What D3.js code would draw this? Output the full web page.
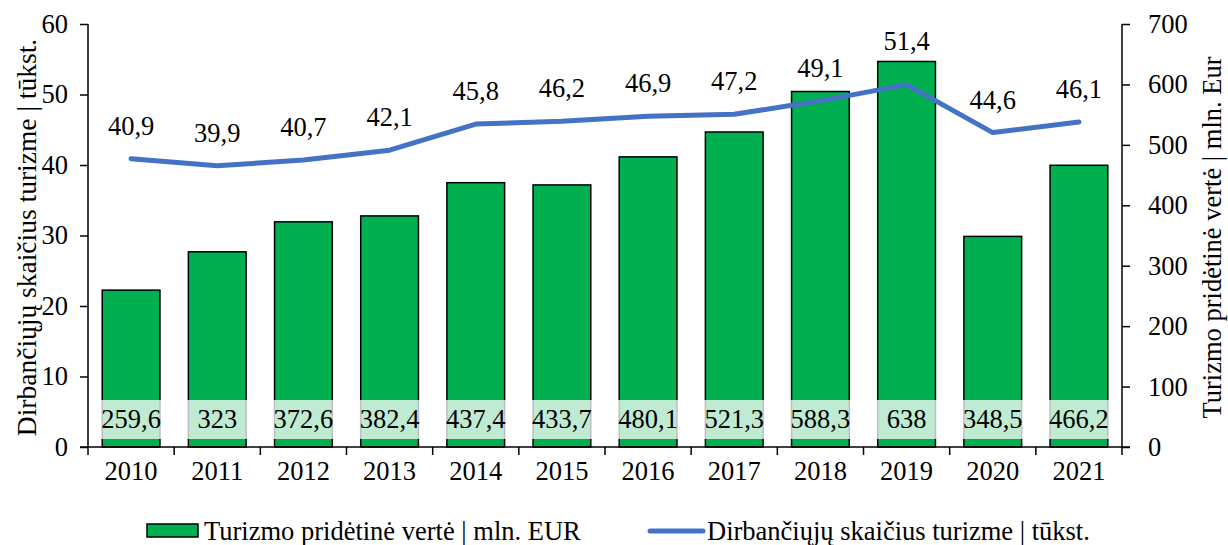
<!DOCTYPE html>
<html>
<head>
<meta charset="utf-8">
<script src="https://cdn.jsdelivr.net/npm/d3@7"></script>
<style>
  body { margin: 0; background: #fff; }
  text { font-family: "Liberation Serif", "Times New Roman", serif; fill: #000; }
</style>
</head>
<body>
<div id="chart"></div>
<script>
// duomenys
const years = ["2010", "2011", "2012", "2013", "2014", "2015", "2016", "2017", "2018", "2019", "2020", "2021"];
const valueAdded = [259.6, 323, 372.6, 382.4, 437.4, 433.7, 480.1, 521.3, 588.3, 638, 348.5, 466.2];
const employed = [40.9, 39.9, 40.7, 42.1, 45.8, 46.2, 46.9, 47.2, 49.1, 51.4, 44.6, 46.1];
const leftTicks = [0, 10, 20, 30, 40, 50, 60];
const rightTicks = [0, 100, 200, 300, 400, 500, 600, 700];

const width = 1228;
const height = 545;
const pLeft = 88, pRight = 1122, pTop = 24, pBottom = 447;
const fs = 26.5;
const fmt = d => String(d).replace(".", ",");

const svg = d3.select("#chart")
  .append("svg")
  .attr("width", width)
  .attr("height", height);

const x = d3.scaleBand().domain(years).range([pLeft, pRight]).paddingInner(0.33).paddingOuter(0.165);
const yL = d3.scaleLinear().domain([0, 60]).range([pBottom, pTop]);
const yR = d3.scaleLinear().domain([0, 700]).range([pBottom, pTop]);

// stulpeliai
svg.selectAll("rect.bar")
  .data(years)
  .enter()
  .append("rect")
  .attr("class", "bar")
  .attr("x", d => x(d))
  .attr("y", (d, i) => yR(valueAdded[i]))
  .attr("width", x.bandwidth())
  .attr("height", (d, i) => pBottom - yR(valueAdded[i]))
  .attr("fill", "#00B050")
  .attr("stroke", "#000")
  .attr("stroke-width", 1.5);

// reikšmių etiketės stulpelių apačioje
svg.selectAll("rect.lblbg")
  .data(years)
  .enter()
  .append("rect")
  .attr("class", "lblbg")
  .attr("x", d => x(d) - 1.5)
  .attr("y", pBottom - 47)
  .attr("width", x.bandwidth() + 3)
  .attr("height", 39)
  .attr("fill", "rgba(255,255,255,0.75)");

svg.selectAll("text.barlbl")
  .data(years)
  .enter()
  .append("text")
  .attr("class", "barlbl")
  .attr("x", d => x(d) + x.bandwidth() / 2)
  .attr("y", pBottom - 19)
  .attr("text-anchor", "middle")
  .attr("font-size", fs)
  .text((d, i) => fmt(valueAdded[i]));

// linija
const cx = d => x(d) + x.bandwidth() / 2;
const line = d3.line()
  .x((d, i) => cx(years[i]))
  .y(d => yL(d));

svg.append("path")
  .datum(employed)
  .attr("d", line)
  .attr("fill", "none")
  .attr("stroke", "#4472C4")
  .attr("stroke-width", 5)
  .attr("stroke-linecap", "round")
  .attr("stroke-linejoin", "round");

svg.selectAll("text.linelbl")
  .data(years)
  .enter()
  .append("text")
  .attr("class", "linelbl")
  .attr("x", d => cx(d))
  .attr("y", (d, i) => Math.min(yL(employed[i]) - 24, yR(valueAdded[i]) - 11))
  .attr("text-anchor", "middle")
  .attr("font-size", fs)
  .text((d, i) => fmt(employed[i]));

// ašys
const axL = svg.append("g")
  .attr("transform", `translate(${pLeft},0)`)
  .call(d3.axisLeft(yL).tickValues(leftTicks).tickSize(8).tickSizeOuter(8).tickPadding(12));
const axR = svg.append("g")
  .attr("transform", `translate(${pRight},0)`)
  .call(d3.axisRight(yR).tickValues(rightTicks).tickSize(8).tickSizeOuter(8).tickPadding(18));
const axB = svg.append("g")
  .attr("transform", `translate(0,${pBottom})`)
  .call(d3.axisBottom(x).tickSize(0).tickPadding(14));

// x ašies padalos tarp kategorijų
svg.selectAll("line.xtick")
  .data(d3.range(years.length + 1))
  .enter()
  .append("line")
  .attr("class", "xtick")
  .attr("x1", i => pLeft + i * (pRight - pLeft) / years.length)
  .attr("x2", i => pLeft + i * (pRight - pLeft) / years.length)
  .attr("y1", pBottom)
  .attr("y2", pBottom + 8)
  .attr("stroke", "#000")
  .attr("stroke-width", 1.5);

svg.append("line")
  .attr("x1", pLeft - 8).attr("x2", pRight + 8)
  .attr("y1", pBottom).attr("y2", pBottom)
  .attr("stroke", "#000").attr("stroke-width", 1.5);

[axL, axR, axB].forEach(g => {
  g.selectAll("text").attr("font-size", fs).attr("font-family", "Liberation Serif");
  g.selectAll("line, path").attr("stroke", "#000").attr("stroke-width", 1.5);
});
axB.select(".domain").remove();
axL.select(".domain").attr("d", `M0,${pTop}V${pBottom}`);
axR.select(".domain").attr("d", `M0,${pTop}V${pBottom}`);

// ašių pavadinimai
svg.append("text")
  .attr("transform", `translate(36,${(pTop + pBottom) / 2 + 2}) rotate(-90)`)
  .attr("text-anchor", "middle")
  .attr("font-size", 27.5)
  .text("Dirbančiųjų skaičius turizme | tūkst.");

svg.append("text")
  .attr("transform", `translate(1221,${(pTop + pBottom) / 2 + 2}) rotate(-90)`)
  .attr("text-anchor", "middle")
  .attr("font-size", 26.5)
  .text("Turizmo pridėtinė vertė | mln. Eur");

// legenda
svg.append("rect")
  .attr("x", 147).attr("y", 524).attr("width", 51).attr("height", 13)
  .attr("fill", "#00B050").attr("stroke", "#000").attr("stroke-width", 1.5);
svg.append("text")
  .attr("x", 204).attr("y", 540)
  .attr("font-size", fs)
  .text("Turizmo pridėtinė vertė | mln. EUR");

svg.append("line")
  .attr("x1", 650).attr("x2", 703).attr("y1", 531).attr("y2", 531)
  .attr("stroke", "#4472C4").attr("stroke-width", 5).attr("stroke-linecap", "round");
svg.append("text")
  .attr("x", 707).attr("y", 540)
  .attr("font-size", fs)
  .text("Dirbančiųjų skaičius turizme | tūkst.");
</script>
</body>
</html>
